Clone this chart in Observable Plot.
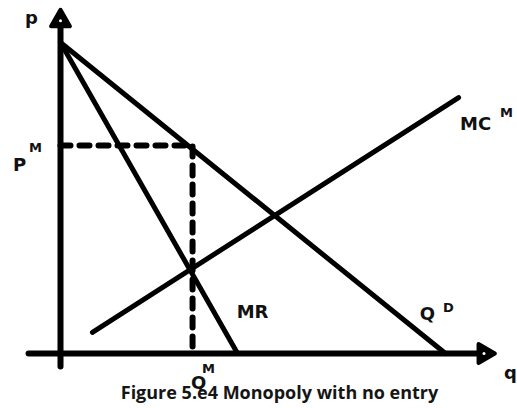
<!DOCTYPE html>
<html>
<head>
<meta charset="utf-8">
<script src="https://cdn.jsdelivr.net/npm/d3@7"></script>
<script src="https://cdn.jsdelivr.net/npm/@observablehq/plot@0.6"></script>
<style>
  html, body { margin: 0; padding: 0; background: #fff; }
  #wrap { position: relative; width: 517px; height: 408px; overflow: hidden; }
  #caption {
    position: absolute; left: 0; top: 378px; width: 517px; height: 28px;
    box-sizing: border-box; padding-left: 42px;
    text-align: center; line-height: 28px;
    font-family: "Open Sans", "Noto Sans", sans-serif; font-weight: 700; font-size: 18px;
    color: #151515; white-space: nowrap;
  }
</style>
</head>
<body>
<div id="wrap"><div id="chart"></div><div id="caption">Figure 5.e4 Monopoly with no entry</div></div>
<script>
// ---- data (economic units) ----
const demandQ = [0, 10];
const demandP = [10, 0];
const mrQ = [0, 4.6];
const mrP = [10, 0];
const mcQ = [0.83, 10.34];
const mcP = [0.68, 8.23];
const monopolyQ = 3.43;   // Q^M
const monopolyP = 6.69;   // P^M
const axisQ = [-0.83, 11.0];  // horizontal axis extent
const axisP = [-0.42, 10.7];  // vertical axis extent

const toPts = (qs, ps) => qs.map((q, i) => ({q, p: ps[i]}));
const demand = toPts(demandQ, demandP);
const mr = toPts(mrQ, mrP);
const mc = toPts(mcQ, mcP);
const dashed = [{q: 0, p: monopolyP}, {q: monopolyQ, p: monopolyP}, {q: monopolyQ, p: 0}];
const xAxisLine = [{q: axisQ[0], p: 0}, {q: axisQ[1], p: 0}];
const yAxisLine = [{q: 0, p: axisP[0]}, {q: 0, p: axisP[1]}];

const lbl = {fontFamily: "DejaVu Sans", fontWeight: "bold", fill: "#111"};
const big = {...lbl, fontSize: 18};
const sup = {...lbl, fontSize: 13};

const chart = Plot.plot({
  width: 517,
  height: 378,
  margin: 0,
  x: {domain: [0, 10], range: [60, 445], axis: null},
  y: {domain: [0, 10], range: [353, 42], axis: null},
  style: {overflow: "visible", background: "transparent"},
  marks: [
    Plot.line(xAxisLine, {x: "q", y: "p", stroke: "black", strokeWidth: 6, strokeLinecap: "round"}),
    Plot.line(yAxisLine, {x: "q", y: "p", stroke: "black", strokeWidth: 6, strokeLinecap: "round"}),
    Plot.dot([{q: axisQ[1], p: 0}], {x: "q", y: "p", symbol: "triangle", r: 7, rotate: 90, fill: "black", stroke: "black", strokeWidth: 4, strokeLinejoin: "round"}),
    Plot.dot([{q: 0, p: axisP[1]}], {x: "q", y: "p", symbol: "triangle", r: 7, fill: "black", stroke: "black", strokeWidth: 4, strokeLinejoin: "round"}),
    Plot.dot([{q: axisQ[1], p: 0}, {q: 0, p: axisP[1]}], {x: "q", y: "p", r: 1.5, fill: "white"}),
    Plot.line(dashed, {x: "q", y: "p", stroke: "black", strokeWidth: 6, strokeDasharray: "10,9"}),
    Plot.line(demand, {x: "q", y: "p", stroke: "black", strokeWidth: 5, strokeLinecap: "round"}),
    Plot.line(mr, {x: "q", y: "p", stroke: "black", strokeWidth: 5, strokeLinecap: "round"}),
    Plot.line(mc, {x: "q", y: "p", stroke: "black", strokeWidth: 5, strokeLinecap: "round"}),
    // labels
    Plot.text([{q: 0, p: axisP[1]}], {x: "q", y: "p", text: () => "p", dx: -29, dy: -2, ...big}),
    Plot.text([{q: axisQ[1], p: 0}], {x: "q", y: "p", text: () => "q", dx: 20, dy: 20, textAnchor: "start", ...big}),
    Plot.text([{q: 0, p: monopolyP}], {x: "q", y: "p", text: () => "P", dx: -41, dy: 20, ...big}),
    Plot.text([{q: 0, p: monopolyP}], {x: "q", y: "p", text: () => "M", dx: -25, dy: 2, ...sup}),
    Plot.text([{q: monopolyQ, p: 0}], {x: "q", y: "p", text: () => "Q", dx: 6, dy: 30, ...big}),
    Plot.text([{q: monopolyQ, p: 0}], {x: "q", y: "p", text: () => "M", dx: 16, dy: 15, ...sup}),
    Plot.text([{q: mcQ[1], p: mcP[1]}], {x: "q", y: "p", text: () => "MC", dx: 17, dy: 27, ...big}),
    Plot.text([{q: mcQ[1], p: mcP[1]}], {x: "q", y: "p", text: () => "M", dx: 48, dy: 15, ...sup}),
    Plot.text([{q: mrQ[1], p: 0}], {x: "q", y: "p", text: () => "MR", dx: 15, dy: -41, ...big}),
    Plot.text([{q: demandQ[1], p: 0}], {x: "q", y: "p", text: () => "Q", dx: -18, dy: -39, ...big}),
    Plot.text([{q: demandQ[1], p: 0}], {x: "q", y: "p", text: () => "D", dx: 3, dy: -46, ...sup})
  ]
});
document.getElementById("chart").appendChild(chart);
</script>
</body>
</html>
